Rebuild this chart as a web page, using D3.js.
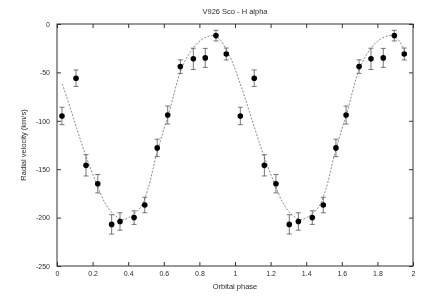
<!DOCTYPE html>
<html>
<head>
<meta charset="utf-8">
<script src="https://cdn.jsdelivr.net/npm/d3@7"></script>
<style>
  html, body { margin: 0; padding: 0; background: #fff; }
  svg { display: block; will-change: transform; }
  text { font-family: "Liberation Sans", Arial, sans-serif; -webkit-font-smoothing: antialiased; }
</style>
</head>
<body>
<div id="chart"></div>
<script>
// V926 Sco, H alpha radial velocities folded on orbital phase (plotted twice, 0..2).

const obsPhase = [0.028, 0.107, 0.163, 0.229, 0.307, 0.354, 0.433, 0.493, 0.563, 0.622, 0.693, 0.766, 0.833, 0.893, 0.951,
                  1.030, 1.108, 1.165, 1.230, 1.305, 1.356, 1.434, 1.496, 1.567, 1.624, 1.697, 1.764, 1.833, 1.895, 1.951];
const obsVel = [-95, -56, -146, -165, -207, -204, -200, -187, -128, -94, -44, -36, -35, -12, -31,
                -95, -56, -146, -165, -207, -204, -200, -187, -128, -94, -44, -36, -35, -12, -31];
const obsErr = [9, 8.5, 11, 9.5, 10, 9, 7, 8, 9, 9.3, 7, 11, 9.8, 5.5, 6.2,
                9, 8.5, 11, 9.5, 10, 9, 7, 8, 9, 9.3, 7, 11, 9.8, 5.5, 6.2];

// fitted orbit
const fitPhase = [0.03, 0.08, 0.12, 0.16, 0.22, 0.27, 0.32, 0.37, 0.42, 0.47, 0.51, 0.56, 0.60, 0.63, 0.70, 0.76, 0.81, 0.87, 0.91, 0.95, 0.98,
                  1.03, 1.08, 1.12, 1.16, 1.22, 1.27, 1.32, 1.37, 1.42, 1.47, 1.51, 1.56, 1.60, 1.63, 1.70, 1.76, 1.81, 1.87, 1.91, 1.95, 1.965];
const fitVel = [-62, -90, -113, -135, -164, -185, -197, -202, -198, -189, -171, -134, -109, -91, -46, -26, -16.5, -12, -15, -26, -37,
                -62, -90, -113, -135, -164, -185, -197, -202, -198, -189, -171, -134, -109, -91, -46, -26, -16.5, -12, -15, -26, -31];

const xTicks = [0, 0.2, 0.4, 0.6, 0.8, 1, 1.2, 1.4, 1.6, 1.8, 2];
const xTickLabels = ["0", "0.2", "0.4", "0.6", "0.8", "1", "1.2", "1.4", "1.6", "1.8", "2"];
const yTicks = [0, -50, -100, -150, -200, -250];
const yTickLabels = ["0", "-50", "-100", "-150", "-200", "-250"];

const INK = "#2a2a2a";
const W = 436, H = 297;
const margin = { top: 24, right: 23, bottom: 31, left: 57 };
const iw = W - margin.left - margin.right, ih = H - margin.top - margin.bottom;

const svg = d3.select("#chart").append("svg").attr("width", W).attr("height", H);
const g = svg.append("g").attr("transform", `translate(${margin.left},${margin.top})`);

const x = d3.scaleLinear().domain([0, 2]).range([0, iw]);
const y = d3.scaleLinear().domain([-250, 0]).range([ih, 0]);

const styleAxis = (s) => {
  s.attr("color", INK);
  s.select(".domain").remove();
  s.selectAll("line").attr("stroke", "#333").attr("stroke-width", 1);
  s.selectAll("text").style("font-size", "7px").attr("fill", INK);
};

g.append("g").attr("transform", `translate(0,${ih})`)
  .call(d3.axisBottom(x).tickValues(xTicks).tickFormat((d, i) => xTickLabels[i]).tickSizeInner(-4).tickSizeOuter(0).tickPadding(5))
  .call(styleAxis);
g.append("g")
  .call(d3.axisTop(x).tickValues(xTicks).tickFormat("").tickSizeInner(-4).tickSizeOuter(0))
  .call(styleAxis);
g.append("g")
  .call(d3.axisLeft(y).tickValues(yTicks).tickFormat((d, i) => yTickLabels[i]).tickSizeInner(-4).tickSizeOuter(0).tickPadding(7))
  .call(styleAxis);
g.append("g").attr("transform", `translate(${iw},0)`)
  .call(d3.axisRight(y).tickValues(yTicks).tickFormat("").tickSizeInner(-4).tickSizeOuter(0))
  .call(styleAxis);

g.append("rect").attr("width", iw).attr("height", ih)
  .attr("fill", "none").attr("stroke", "#333").attr("stroke-width", 1);

// dashed model curve
g.append("path").datum(d3.range(fitPhase.length))
  .attr("fill", "none").attr("stroke", "#888").attr("stroke-width", 1).attr("stroke-dasharray", "2,1.5")
  .attr("d", d3.line().x((i) => x(fitPhase[i])).y((i) => y(fitVel[i])).curve(d3.curveCatmullRom));

// error bars + points
const pts = g.append("g");
obsPhase.forEach((p, i) => {
  const cx = x(p), top = y(obsVel[i] + obsErr[i]), bot = y(obsVel[i] - obsErr[i]);
  const eb = pts.append("g").attr("stroke", "#555").attr("stroke-width", 0.8);
  eb.append("line").attr("x1", cx).attr("x2", cx).attr("y1", top).attr("y2", bot);
  eb.append("line").attr("x1", cx - 2.5).attr("x2", cx + 2.5).attr("y1", top).attr("y2", top);
  eb.append("line").attr("x1", cx - 2.5).attr("x2", cx + 2.5).attr("y1", bot).attr("y2", bot);
  pts.append("circle").attr("cx", cx).attr("cy", y(obsVel[i])).attr("r", 2.8).attr("fill", "#000");
});

svg.append("text").attr("x", margin.left + iw / 2).attr("y", 14).attr("text-anchor", "middle")
  .attr("fill", INK).style("font-size", "7.5px").text("V926 Sco - H alpha");
svg.append("text").attr("x", margin.left + iw / 2).attr("y", 289).attr("text-anchor", "middle")
  .attr("fill", INK).style("font-size", "7.5px").text("Orbital phase");
svg.append("text").attr("transform", `translate(26,${margin.top + ih / 2}) rotate(-90)`).attr("text-anchor", "middle")
  .attr("fill", INK).style("font-size", "7.5px").text("Radial velocity (km/s)");
</script>
</body>
</html>
